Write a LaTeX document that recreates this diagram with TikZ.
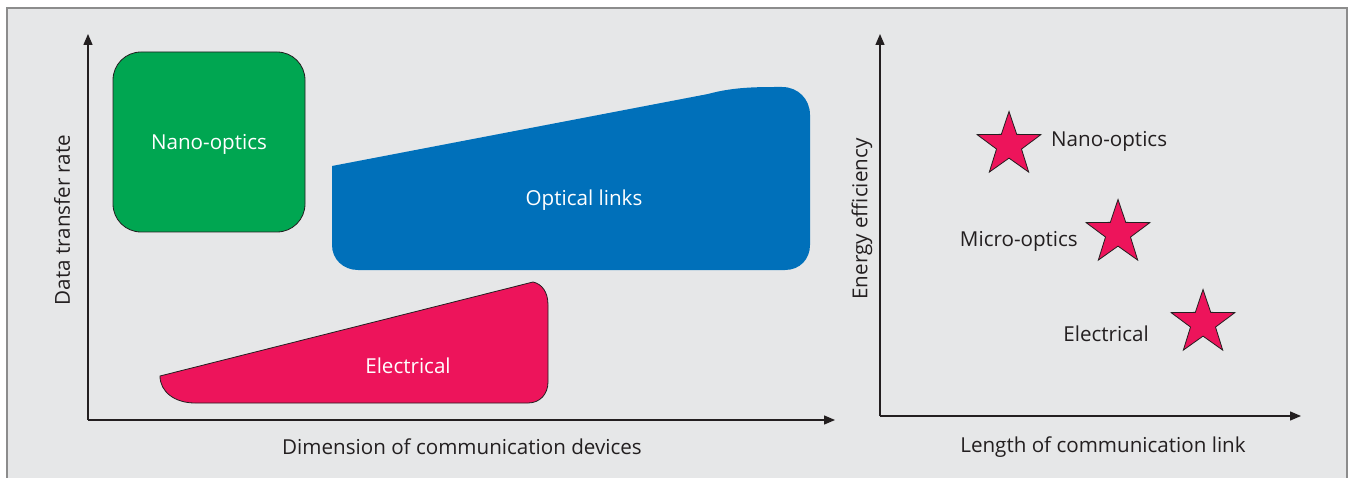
\documentclass[tikz,border=0pt]{standalone}
\usepackage{fontspec}
\setmainfont{Open Sans}
\usetikzlibrary{arrows.meta,shapes.geometric}
\definecolor{panelbg}{HTML}{E6E7E8}
\definecolor{framegray}{HTML}{8C8C8C}
\definecolor{ink}{HTML}{231F20}
\definecolor{nanogreen}{HTML}{00A651}
\definecolor{opticblue}{HTML}{0070BA}
\definecolor{elecred}{HTML}{ED145B}
\newcommand{\labelfont}{\fontsize{20.6}{22}\selectfont}
\tikzset{
  axis/.style={draw=ink, line width=1.3pt, -{Triangle[length=11pt,width=9pt]}},
  lbl/.style={font=\labelfont, text=ink, inner sep=0pt},
  inlbl/.style={font=\labelfont, text=white, inner sep=0pt},
  starmark/.style={star, star points=5, star point ratio=2.55, minimum size=67pt,
    inner sep=0pt, outer sep=0pt, fill=elecred, draw=ink, line width=0.8pt},
  region/.style={draw=ink, line width=0.8pt}
}
\begin{document}
\begin{tikzpicture}[x=1pt,y=-1pt]
  \useasboundingbox (0,0) rectangle (1351,478);
  % panel background and frame (open at the bottom)
  \fill[panelbg] (7,8) rectangle (1347,478);
  \draw[framegray, line width=2pt] (7,478) -- (7,8) -- (1347,8) -- (1347,478);

  % ---- left chart ----
  \coordinate (lo) at (88,420);
  \coordinate (ly) at (88,34);
  \coordinate (lx) at (835,420);
  \draw[axis] (lo) -- (ly);
  \draw[axis] (lo) -- (lx);

  \node[region, fill=nanogreen, rounded corners=28pt, minimum width=192pt,
        minimum height=180pt, inner sep=0pt, font=\labelfont,
        text=white] (nano) at (209,142) {};
  \node[inlbl] (nanotxt) at (209,144) {Nano-optics};

  \fill[opticblue] (332,166) -- (708,94) .. controls (730,88) and (750,87) .. (775,87)
    -- (782,87) .. controls (798,87) and (810,99) .. (810,115)
    -- (810,245) .. controls (810,259) and (800,270) .. (785,270)
    -- (358,270) .. controls (343,270) and (332,259) .. (332,245) -- cycle;
  \node[inlbl] (optical) at (584,200) {Optical links};

  \filldraw[region, fill=elecred] (160,376) -- (533,282) .. controls (542,284) and (548,292) .. (548,305)
    -- (548,382) .. controls (548,394) and (540,403) .. (528,403)
    -- (195,403) .. controls (175,403) and (160,392) .. (160,376) -- cycle;
  \node[inlbl] (elec) at (408,366) {Electrical};

  \node[lbl] (xlabL) at (462,447) {Dimension of communication devices};
  \node[lbl, rotate=90] (ylabL) at (62,220) {Data transfer rate};

  % ---- right chart ----
  \coordinate (ro) at (880,416);
  \coordinate (ry) at (880,34);
  \coordinate (rx) at (1301,416);
  \draw[axis] (ro) -- (ry);
  \draw[axis] (ro) -- (rx);

  \node[starmark] (s1) at (1009,145) {};
  \node[starmark] (s2) at (1118,233) {};
  \node[starmark] (s3) at (1203,323) {};
  \node[lbl, anchor=west] (t1) at (1051,141) {Nano-optics};
  \node[lbl, anchor=east] (t2) at (1078,241) {Micro-optics};
  \node[lbl, anchor=east] (t3) at (1149,334) {Electrical};

  \node[lbl] (xlabR) at (1103,447) {Length of communication link};
  \node[lbl, rotate=90] (ylabR) at (862,219) {Energy efficiency};
\end{tikzpicture}
\end{document}
